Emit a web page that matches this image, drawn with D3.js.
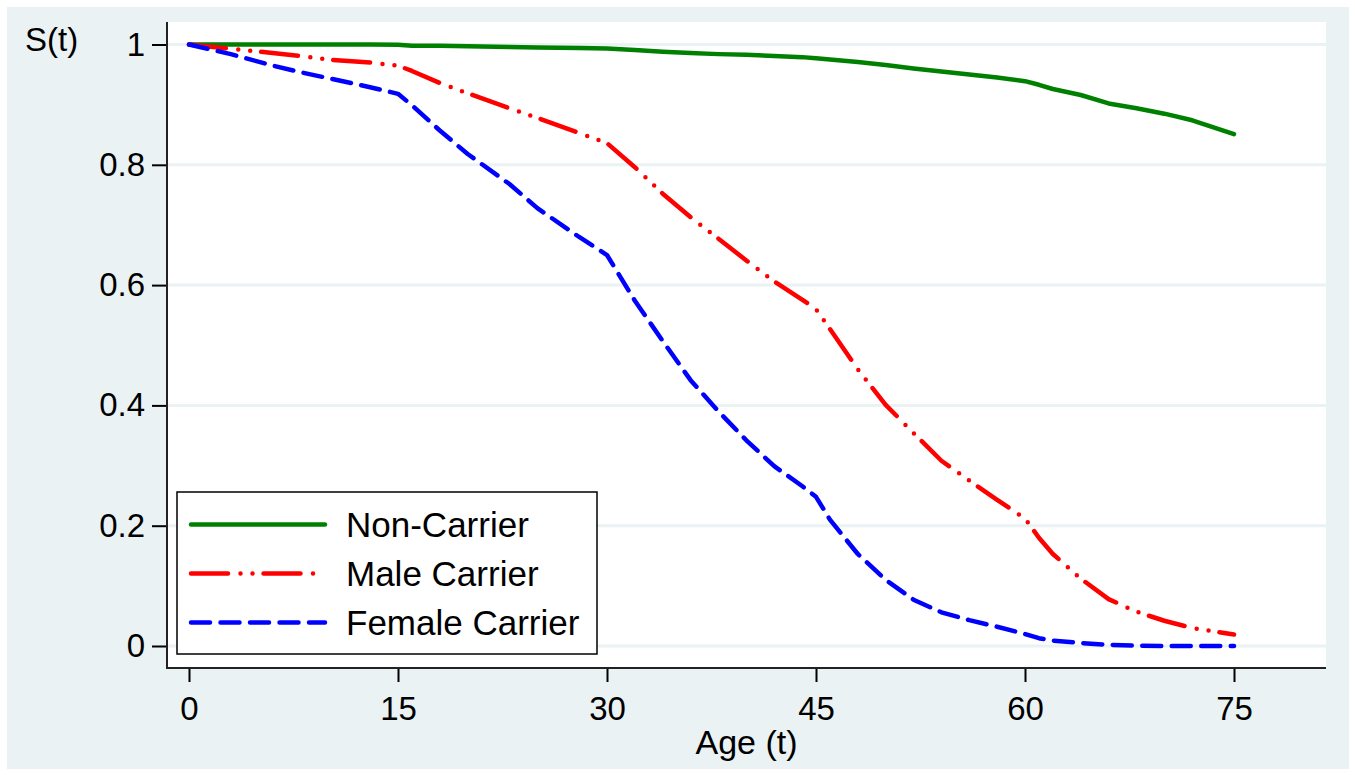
<!DOCTYPE html>
<html>
<head>
<meta charset="utf-8">
<script src="https://cdn.jsdelivr.net/npm/d3@7"></script>
<style>
  body { margin: 0; background: #fff; }
  svg { display: block; font-family: Arial, "Liberation Sans", sans-serif; }
</style>
</head>
<body>
<div id="chart"></div>
<script>
// survival curves
let ages = [0, 3, 6, 8, 10, 13, 15, 16, 18, 20, 23, 25, 28, 30, 32, 34, 36, 38, 40, 42, 44, 45, 46, 48, 50, 52, 54, 56, 58, 60, 61, 62, 64, 66, 68, 70, 72, 75];
let nonCarrier = [1, 1, 1, 1, 1, 1, 0.9995, 0.998, 0.998, 0.997, 0.996, 0.995, 0.994, 0.9935, 0.991, 0.988, 0.986, 0.984, 0.983, 0.981, 0.979, 0.977, 0.975, 0.971, 0.966, 0.96, 0.955, 0.95, 0.945, 0.939, 0.933, 0.926, 0.916, 0.902, 0.894, 0.885, 0.874, 0.851];
let maleCarrier = [1, 0.993, 0.986, 0.981, 0.975, 0.97, 0.965, 0.956, 0.936, 0.919, 0.894, 0.878, 0.853, 0.836, 0.796, 0.752, 0.713, 0.677, 0.641, 0.606, 0.576, 0.56, 0.527, 0.46, 0.401, 0.354, 0.308, 0.275, 0.243, 0.212, 0.18, 0.153, 0.112, 0.078, 0.057, 0.042, 0.03, 0.019];
let femaleCarrier = [1, 0.984, 0.965, 0.954, 0.944, 0.929, 0.918, 0.899, 0.857, 0.818, 0.768, 0.728, 0.68, 0.65, 0.574, 0.507, 0.442, 0.39, 0.342, 0.299, 0.266, 0.248, 0.21, 0.153, 0.11, 0.077, 0.056, 0.043, 0.032, 0.02, 0.013, 0.009, 0.005, 0.002, 0.0005, 0, 0, 0];

let seriesNames = ["Non-Carrier", "Male Carrier", "Female Carrier"];
let xTicks = [0, 15, 30, 45, 60, 75];
let yTicks = [0, 0.2, 0.4, 0.6, 0.8, 1];
let yTickLabels = ["0", "0.2", "0.4", "0.6", "0.8", "1"];

let width = 1355;
let height = 775;

let plot = { left: 167, right: 1326, top: 22, bottom: 668 };

let x = d3.scaleLinear().domain([0, 75]).range([189, 1234]);
let y = d3.scaleLinear().domain([0, 1]).range([646, 44.5]);

let line_width = 4.5;

let series = [
	{ name: seriesNames[0], values: nonCarrier, color: "#008000", dash: null },
	{ name: seriesNames[1], values: maleCarrier, color: "#ff0000", dash: "37,12.5,0,12,0,11" },
	{ name: seriesNames[2], values: femaleCarrier, color: "#0000ff", dash: "19,10.5" },
];

let svg = d3
	.select("#chart")
	.append("svg")
	.attr("width", width)
	.attr("height", height);

// outer graph region
svg.append("rect")
	.attr("x", 7)
	.attr("y", 7)
	.attr("width", 1342)
	.attr("height", 762)
	.attr("fill", "#eaf2f3");

// plot region
svg.append("rect")
	.attr("x", plot.left)
	.attr("y", plot.top)
	.attr("width", plot.right - plot.left)
	.attr("height", plot.bottom - plot.top)
	.attr("fill", "#fff");

// gridlines
svg.append("g")
	.selectAll("line")
	.data(yTicks)
	.enter()
	.append("line")
	.attr("x1", plot.left)
	.attr("x2", plot.right)
	.attr("y1", (d) => y(d))
	.attr("y2", (d) => y(d))
	.attr("stroke", "#eaf2f3")
	.attr("stroke-width", 3);

// y axis
svg.append("g")
	.attr("transform", `translate(${plot.left},0)`)
	.call(
		d3.axisLeft(y)
			.tickValues(yTicks)
			.tickFormat((d, i) => yTickLabels[i])
			.tickSize(15)
			.tickPadding(7),
	)
	.call((g) => g.select(".domain").remove())
	.call((g) => g.selectAll(".tick line").attr("stroke", "#000").attr("stroke-width", 2))
	.call((g) =>
		g.selectAll(".tick text")
			.attr("fill", "#000")
			.attr("font-size", 33)
			.attr("font-family", "Arial, 'Liberation Sans', sans-serif"),
	);

// x axis
svg.append("g")
	.attr("transform", `translate(0,${plot.bottom})`)
	.call(d3.axisBottom(x).tickValues(xTicks).tickSize(14).tickPadding(15))
	.call((g) => g.select(".domain").remove())
	.call((g) => g.selectAll(".tick line").attr("stroke", "#000").attr("stroke-width", 2))
	.call((g) =>
		g.selectAll(".tick text")
			.attr("fill", "#000")
			.attr("font-size", 33)
			.attr("font-family", "Arial, 'Liberation Sans', sans-serif"),
	);

// axis lines
svg.append("line")
	.attr("x1", plot.left)
	.attr("x2", plot.left)
	.attr("y1", plot.top)
	.attr("y2", plot.bottom + 1)
	.attr("stroke", "#222")
	.attr("stroke-width", 2);
svg.append("line")
	.attr("x1", plot.left - 1)
	.attr("x2", plot.right)
	.attr("y1", plot.bottom)
	.attr("y2", plot.bottom)
	.attr("stroke", "#222")
	.attr("stroke-width", 2);

// curves
let line = d3
	.line()
	.x((d, i) => x(ages[i]))
	.y((d) => y(d));

svg.append("g")
	.selectAll("path")
	.data(series)
	.enter()
	.append("path")
	.attr("d", (d) => line(d.values))
	.attr("fill", "none")
	.attr("stroke", (d) => d.color)
	.attr("stroke-width", line_width)
	.attr("stroke-linecap", "round")
	.attr("stroke-linejoin", "round")
	.attr("stroke-dasharray", (d) => d.dash);

// axis titles
svg.append("text")
	.attr("x", 25)
	.attr("y", 51)
	.attr("font-size", 33)
	.text("S(t)");

svg.append("text")
	.attr("x", (plot.left + plot.right) / 2)
	.attr("y", 754)
	.attr("text-anchor", "middle")
	.attr("font-size", 34)
	.text("Age (t)");

// legend
let legend = svg.append("g");
legend.append("rect")
	.attr("x", 177)
	.attr("y", 492)
	.attr("width", 420)
	.attr("height", 162)
	.attr("fill", "#fff")
	.attr("stroke", "#000")
	.attr("stroke-width", 1.5);

let rows = legend
	.selectAll(".row")
	.data(series)
	.enter()
	.append("g")
	.attr("transform", (d, i) => `translate(0,${524.5 + i * 49})`);

rows.append("line")
	.attr("x1", 191)
	.attr("x2", 325)
	.attr("stroke", (d) => d.color)
	.attr("stroke-width", line_width)
	.attr("stroke-linecap", "round")
	.attr("stroke-dasharray", (d) => d.dash);

rows.append("text")
	.attr("x", 346)
	.attr("dy", "0.36em")
	.attr("font-size", 35)
	.text((d) => d.name);
</script>
</body>
</html>
